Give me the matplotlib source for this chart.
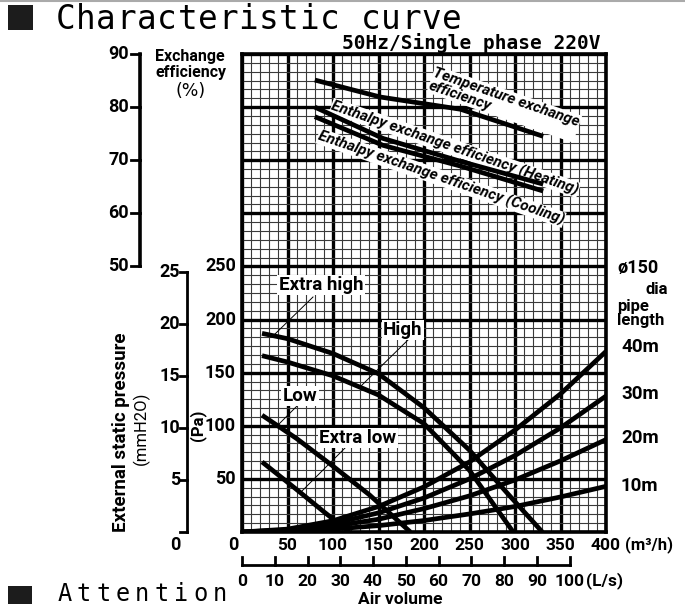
import matplotlib
matplotlib.use("Agg")
import matplotlib.pyplot as plt
from matplotlib.patches import Rectangle
from matplotlib.lines import Line2D
import numpy as np

# ---- values ----
# fan curves: air volume (m3/h) vs external static pressure (Pa)
extra_high_flow = [22, 50, 100, 150, 200, 250, 290, 330]
extra_high_pa = [187, 182, 168, 149, 117, 77, 38, 0]
high_flow = [22, 50, 100, 150, 200, 250, 298]
high_pa = [166, 160, 147, 129, 102, 58, 0]
low_flow = [22, 60, 100, 140, 185]
low_pa = [110, 88, 62, 35, 0]
extra_low_flow = [22, 60, 90, 118]
extra_low_pa = [66, 40, 19, 0]

# duct resistance, phi150 pipe
pipe_flow = [0, 50, 100, 150, 200, 250, 300, 350, 400]
pipe_40m = [0, 2.7, 10.6, 24, 42.5, 66, 96, 130, 170]
pipe_30m = [0, 2, 8, 18, 32, 50, 72, 98, 128]
pipe_20m = [0, 1.4, 5.4, 12, 22, 34, 49, 67, 87]
pipe_10m = [0, 0.7, 2.7, 6, 10.8, 17, 24, 33, 43]
pipe_labels = ["40m", "30m", "20m", "10m"]

# exchange efficiency (%)
temp_flow = [80, 152, 240, 283, 331]
temp_eff = [85.1, 81.9, 79.6, 77.2, 74.5]
enth_flow = [80, 155, 240, 331]
heat_eff = [80.0, 74.1, 69.8, 65.5]
cool_eff = [78.2, 72.8, 68.9, 64.2]

flow_ticks = [50, 100, 150, 200, 250, 300, 350, 400]
pa_ticks = [50, 100, 150, 200, 250]
mm_ticks = [5, 10, 15, 20, 25]
eff_ticks = [50, 60, 70, 80, 90]
ls_ticks = [0, 10, 20, 30, 40, 50, 60, 70, 80, 90, 100]

W, H = 685, 608
L, R, T, B = 242, 606, 54, 532

NUM = dict(family=["Roboto", "DejaVu Sans"], fontweight="bold")
CAD = dict(family=["DejaVu Sans Mono"], fontweight="normal")


def dx(px):
    return (px - L) * 400 / (R - L)


def dy(py):
    return (B - py) * 450 / (B - T)


def eff_y(e):
    return 250 + (np.asarray(e, dtype=float) - 50) * 5


def fx(px):
    return px / W


def fy(py):
    return 1 - py / H


def spaced(fig, x0, ybase, s, step, size):
    for i, ch in enumerate(s):
        fig.text(fx(x0 + step * (i + 0.5)), fy(ybase), ch, ha="center", va="baseline",
                 fontsize=size, **CAD)


fig = plt.figure(figsize=(W / 100, H / 100), dpi=100)
fig.patch.set_facecolor("white")
ax = fig.add_axes([L / W, 1 - B / H, (R - L) / W, (B - T) / H])
ax.set_xlim(0, 400)
ax.set_ylim(0, 450)

ax.set_xticks(np.arange(0, 401, 50))
ax.set_xticks(np.arange(0, 401, 10), minor=True)
ax.set_yticks(np.arange(0, 451, 50))
ax.set_yticks(np.linspace(0, 450, 55), minor=True)
ax.grid(which="minor", color="#3a3a3a", linewidth=0.8)
ax.grid(which="major", color="black", linewidth=2.4)
ax.set_axisbelow(True)
ax.tick_params(which="both", length=0, labelbottom=False, labelleft=False)
for s in ax.spines.values():
    s.set_linewidth(2.6)

lw = 3.4
for fl, pa in [(extra_high_flow, extra_high_pa), (high_flow, high_pa),
               (low_flow, low_pa), (extra_low_flow, extra_low_pa)]:
    ax.plot(fl, pa, color="black", lw=lw, solid_capstyle="butt", zorder=5)
for pa in [pipe_40m, pipe_30m, pipe_20m, pipe_10m]:
    ax.plot(pipe_flow, pa, color="black", lw=lw, solid_capstyle="butt", zorder=5)
ax.plot(temp_flow, eff_y(temp_eff), color="black", lw=lw, solid_capstyle="butt", zorder=5)
ax.plot(enth_flow, eff_y(heat_eff), color="black", lw=lw, solid_capstyle="butt", zorder=5)
ax.plot(enth_flow, eff_y(cool_eff), color="black", lw=lw, solid_capstyle="butt", zorder=5)

# fan speed labels with leader lines
box = dict(facecolor="white", edgecolor="none", pad=1.0)
fan_labels = [("Extra high", (321, 285), (313, 297), (275, 334)),
              ("High", (403, 330), (410, 338), (360, 387)),
              ("Low", (300, 396), (300, 403), (278, 425)),
              ("Extra low", (358, 438), (348, 445), (300, 493))]
for txt, (tx, ty), (x1, y1), (x2, y2) in fan_labels:
    ax.plot([dx(x1), dx(x2)], [dy(y1), dy(y2)], color="black", lw=0.7, zorder=4)
    ax.text(dx(tx), dy(ty), txt, ha="center", va="center", fontsize=13.5, bbox=box,
            zorder=6, **NUM)

# efficiency curve labels
eff_font = dict(family=["Roboto", "DejaVu Sans"], fontweight="bold",
                fontstyle="italic", fontsize=11, rotation=-19, rotation_mode="anchor",
                bbox=dict(facecolor="white", edgecolor="none", pad=0.3), zorder=4)
ax.text(dx(436), dy(66), "Temperature exchange\nefficiency", ha="left", va="top",
        linespacing=0.95, **eff_font)
ax.text(dx(455), dy(148), "Enthalpy exchange efficiency (Heating)", ha="center",
        va="center", **eff_font)
ax.text(dx(441), dy(178), "Enthalpy exchange efficiency (Cooling)", ha="center",
        va="center", **eff_font)

# x axis labels
for v in flow_ticks:
    ax.text(v, dy(545), str(v), ha="center", va="center", fontsize=12.5, **NUM)
ax.text(dx(625), dy(545), "(m³/h)", ha="left", va="center", fontsize=12, **NUM)

# L/s scale
ls_y, ls_top = dy(565), dy(557)
ax.plot([0, 360], [ls_y, ls_y], color="black", lw=2, clip_on=False)
for v in ls_ticks:
    ax.plot([v * 3.6, v * 3.6], [ls_y, ls_top], color="black", lw=2, clip_on=False)
    ax.text(v * 3.6, dy(581), str(v), ha="center", va="center", fontsize=12.5, **NUM)
ax.text(dx(586), dy(581), "(L/s)", ha="left", va="center", fontsize=12.5, **NUM)
ax.text(dx(400), dy(599), "Air volume", ha="center", va="center", fontsize=12.5, **NUM)

# Pa axis labels
for v in pa_ticks:
    ax.text(dx(236), v, str(v), ha="right", va="center", fontsize=13, **NUM)
ax.text(dx(233), dy(545), "0", ha="center", va="center", fontsize=13, **NUM)
ax.text(dx(198), dy(425), "(Pa)", ha="center", va="center", rotation=90,
        fontsize=12, **NUM)

# mmH2O axis
mm_x = dx(187)
ax.plot([mm_x, mm_x], [0, 25 * 9.80665], color="black", lw=2, clip_on=False)
ax.plot([dx(180), mm_x], [0, 0], color="black", lw=2, clip_on=False)
for v in mm_ticks:
    yy = v * 9.80665
    ax.plot([dx(180), mm_x], [yy, yy], color="black", lw=2, clip_on=False)
    ax.text(dx(180), yy, str(v), ha="right", va="center", fontsize=13, **NUM)
ax.text(dx(175), dy(545), "0", ha="center", va="center", fontsize=13, **NUM)
ax.text(dx(121), dy(432), "External static pressure", ha="center", va="center",
        rotation=90, fontsize=13.5, **NUM)
ax.text(dx(141), dy(428), "(mmH2O)", ha="center", va="center", rotation=90,
        fontsize=12, family=["Roboto", "DejaVu Sans"])

# efficiency axis
ex = dx(140)
ax.plot([ex, ex], [eff_y(50), eff_y(90)], color="black", lw=2.6, clip_on=False)
for v in eff_ticks:
    ax.plot([dx(131), ex], [eff_y(v), eff_y(v)], color="black", lw=2, clip_on=False)
    ax.text(dx(129), eff_y(v), str(v), ha="right", va="center", fontsize=13, **NUM)
ax.text(dx(155), dy(56), "Exchange", ha="left", va="center", fontsize=11.5, **NUM)
ax.text(dx(155), dy(73), "efficiency", ha="left", va="center", fontsize=11.5, **NUM)
ax.text(dx(191), dy(91), "(%)", ha="center", va="center", fontsize=12.5,
        family=["DejaVu Sans"])

# pipe legend
ax.text(dx(617), dy(268), "ø150", ha="left", va="center", fontsize=13, **NUM)
ax.text(dx(646), dy(290), "dia", ha="left", va="center", fontsize=12, **NUM)
ax.text(dx(617), dy(306), "pipe", ha="left", va="center", fontsize=12, **NUM)
ax.text(dx(617), dy(320), "length", ha="left", va="center", fontsize=12, **NUM)
for lab, py in zip(pipe_labels, [347, 394, 438, 486]):
    ax.text(dx(621), dy(py), lab, ha="left", va="center", fontsize=13.5, **NUM)

# header / footer
fig.add_artist(Line2D([0, 1], [fy(1), fy(1)], color="#aaaaaa", lw=1.5))
fig.add_artist(Rectangle((fx(8), fy(30)), 25 / W, 25 / H, facecolor="#1c1c1c",
                         edgecolor="none"))
spaced(fig, 55, 29, "Characteristic curve", 20.35, 23.5)
fig.text(fx(600), fy(49), "50Hz/Single phase 220V", ha="right", va="baseline",
         fontsize=14, family=["DejaVu Sans Mono"], fontweight="bold")
fig.add_artist(Rectangle((fx(8), fy(604)), 24 / W, 18 / H, facecolor="#1c1c1c",
                         edgecolor="none"))
spaced(fig, 55, 601, "Attention", 19.4, 17)

fig.savefig("out.png", dpi=100, facecolor="white")
